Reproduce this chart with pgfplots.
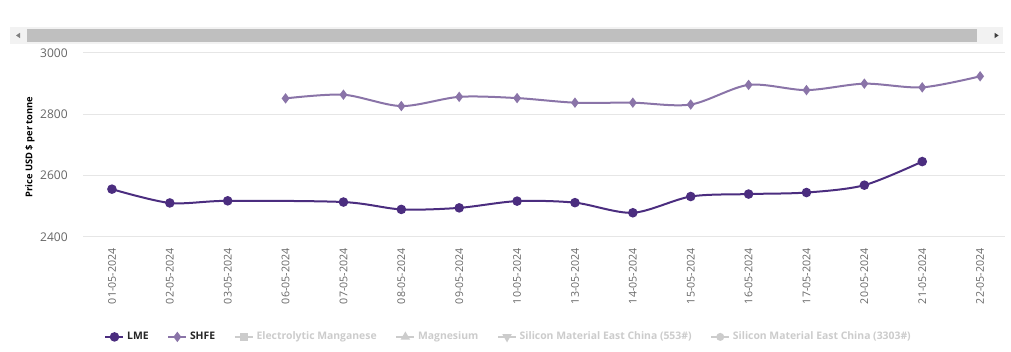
\documentclass[border=0pt]{standalone}
\usepackage{fontspec}
\setmainfont{Open Sans}
\usepackage{pgfplots}
\pgfplotsset{compat=1.18}
\definecolor{lme}{HTML}{4B2D7F}
\definecolor{shfe}{HTML}{8A74A8}
\definecolor{lg}{HTML}{CCCCCC}
\definecolor{tg}{HTML}{666666}
\definecolor{gridc}{HTML}{E6E6E6}
\definecolor{sbo}{HTML}{F2F2F2}
\definecolor{sbi}{HTML}{BFBFBF}
\begin{document}
\begin{tikzpicture}
\useasboundingbox (0,0) rectangle (758.25pt,-264pt);
% scrollbar
\fill[sbo] (7.5pt,-20.25pt) rectangle (752.25pt,-33pt);
\fill[sbi] (20.25pt,-21.75pt) rectangle (732.75pt,-31.5pt);
\fill[gray] (12pt,-26.6pt) -- (15pt,-24.6pt) -- (15pt,-28.6pt) -- cycle;
\fill[black!75] (749pt,-26.6pt) -- (746pt,-24.6pt) -- (746pt,-28.6pt) -- cycle;
\node[rotate=90, font=\bfseries\fontsize{7}{8}\selectfont] at (22.5pt,-110.25pt) {Price USD \$ per tonne};
\begin{axis}[
  at={(62.25pt,-177.75pt)}, anchor=south west,
  scale only axis, width=691.5pt, height=138pt,
  xmin=-0.5, xmax=15.43, ymin=2400, ymax=3000,
  ytick={2400,2600,2800,3000},
  ymajorgrids, grid style={color=gridc, line width=0.75pt},
  axis line style={draw=none},
  major tick length=0pt,
  /pgf/number format/assume math mode=true,
  /pgf/number format/1000 sep={},
  yticklabel style={font=\fontsize{9}{10}\selectfont, text=tg, xshift=-8pt},
  xtick={0,...,15},
  xticklabels={01-05-2024,02-05-2024,03-05-2024,06-05-2024,07-05-2024,08-05-2024,09-05-2024,10-05-2024,13-05-2024,14-05-2024,15-05-2024,16-05-2024,17-05-2024,20-05-2024,21-05-2024,22-05-2024},
  xticklabel style={rotate=90, anchor=east, font=\fontsize{8}{9}\selectfont, text=tg, xshift=-5pt},
  legend style={draw=none, at={(0.462,-0.543)}, anchor=center, font=\bfseries\fontsize{7.8}{9}\selectfont, /tikz/every even column/.append style={column sep=12pt}},
  legend columns=-1,
  legend image code/.code={\draw[mark repeat=2,mark phase=2] plot coordinates {(0pt,0pt)(6.75pt,0pt)(13.5pt,0pt)};},
]
\addplot[lme, line width=1.5pt, smooth, tension=0.5, mark=*, mark size=2.8pt, mark options={solid}] coordinates {
(0,2556)(1,2511)(2,2518)(4,2514)(5,2490)(6,2495)(7,2517)(8,2512)(9,2479)(10,2532)(11,2540)(12,2545)(13,2569)(14,2646)};
\addlegendentry{\textcolor{black!85}{LME}}
\addplot[shfe, line width=1.5pt, smooth, tension=0.5, mark=diamond*, mark size=2.7pt, mark options={solid}] coordinates {
(3,2852)(4,2864)(5,2827)(6,2857)(7,2853)(8,2838)(9,2838)(10,2832)(11,2896)(12,2879)(13,2900)(14,2888)(15,2924)};
\addlegendentry{\textcolor{black!85}{SHFE}}
\addlegendimage{lg, line width=1.5pt, mark=square*, mark size=2.2pt}
\addlegendentry{\textcolor{lg}{Electrolytic Manganese}}
\addlegendimage{lg, line width=1.5pt, mark=triangle*, mark size=2.6pt}
\addlegendentry{\textcolor{lg}{Magnesium}}
\addlegendimage{lg, line width=1.5pt, mark=triangle*, mark size=2.6pt, mark options={rotate=180}}
\addlegendentry{\textcolor{lg}{Silicon Material East China (553\#)}}
\addlegendimage{lg, line width=1.5pt, mark=*, mark size=2.2pt}
\addlegendentry{\textcolor{lg}{Silicon Material East China (3303\#)}}
\end{axis}
\end{tikzpicture}
\end{document}
